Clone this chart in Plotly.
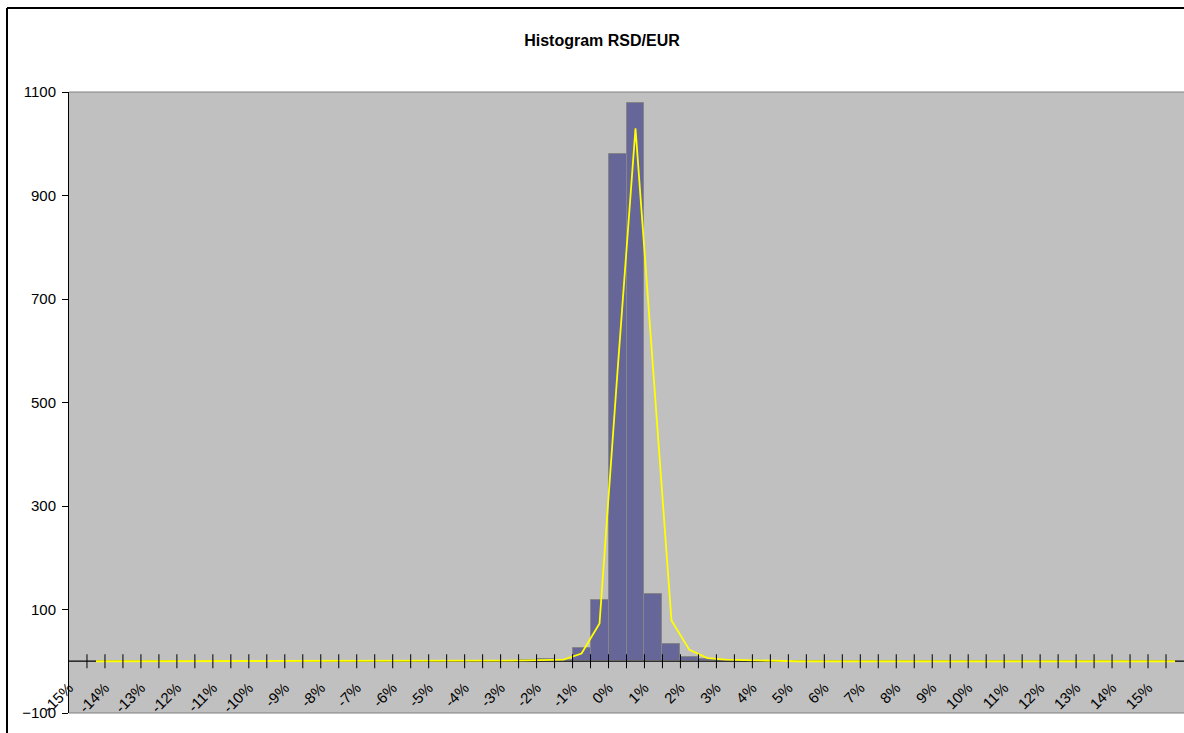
import plotly.graph_objects as go

# Bin centres of the daily change distribution (percent), one bar per 0.5 %
bin_pct = [-15.0, -14.5, -14.0, -13.5, -13.0, -12.5, -12.0, -11.5, -11.0, -10.5,
           -10.0, -9.5, -9.0, -8.5, -8.0, -7.5, -7.0, -6.5, -6.0, -5.5,
           -5.0, -4.5, -4.0, -3.5, -3.0, -2.5, -2.0, -1.5, -1.0, -0.5,
           0.0, 0.5, 1.0, 1.5, 2.0, 2.5, 3.0, 3.5, 4.0, 4.5,
           5.0, 5.5, 6.0, 6.5, 7.0, 7.5, 8.0, 8.5, 9.0, 9.5,
           10.0, 10.5, 11.0, 11.5, 12.0, 12.5, 13.0, 13.5, 14.0, 14.5,
           15.0, 15.5]

# Observed frequencies per bin
counts = [0, 0, 0, 0, 0, 0, 0, 0, 0, 0,
          0, 0, 0, 0, 0, 0, 0, 0, 0, 0,
          0, 0, 0, 1, 1, 2, 4, 2, 25, 119,
          980, 1078, 129, 34, 8, 4, 1, 0, 0, 0,
          0, 0, 0, 0, 0, 0, 0, 0, 0, 0,
          0, 0, 0, 0, 0, 0, 0, 0, 0, 0,
          0, 0]

# Fitted frequencies (no value for the first bin)
fitted = [None, 0, 0, 0, 0, 0, 0, 0, 0, 0,
          0, 0, 0, 0, 0, 0, 0, 0, 0, 0,
          0, 0, 0.3, 0.8, 1.2, 1.6, 2, 3, 15, 73,
          560, 1030, 555, 79, 22, 6, 3, 2, 1, 0.5,
          0, 0, 0, 0, 0, 0, 0, 0, 0, 0,
          0, 0, 0, 0, 0, 0, 0, 0, 0, 0,
          0, 0]

y_ticks = [-100, 100, 300, 500, 700, 900, 1100]
y_min, y_max = -100, 1100

FONT = "Arial, Liberation Sans, Helvetica, sans-serif"
W, H = 1184, 733
ML, MR, MT, MB = 69, 0, 92, 20

idx = list(range(len(bin_pct)))
x_lo, x_hi = -0.5, len(bin_pct) - 0.5
label_idx = [i for i, p in enumerate(bin_pct) if p == int(p)]
label_txt = [f"{int(bin_pct[i])}%" for i in label_idx]
boundaries = [i + 0.5 for i in range(len(bin_pct) - 1)]

fig = go.Figure()

fig.add_trace(go.Bar(
    x=idx, y=counts, width=1.0,
    marker=dict(color="#666699", line=dict(color="#858585", width=1)),
    hoverinfo="skip",
))

# category axis line at zero
fig.add_trace(go.Scatter(
    x=[x_lo, x_hi], y=[0, 0], mode="lines",
    line=dict(color="black", width=1), hoverinfo="skip",
))

fig.add_trace(go.Scatter(
    x=idx, y=fitted, mode="lines",
    line=dict(color="#FFFF00", width=1.8), hoverinfo="skip",
    connectgaps=False,
))

# cross tick marks between categories
fig.add_trace(go.Scatter(
    x=boundaries, y=[0] * len(boundaries), mode="markers",
    marker=dict(symbol="line-ns", size=10, color="black",
                line=dict(color="black", width=1)),
    hoverinfo="skip",
))

plot_w = W - ML - MR
plot_h = H - MT - MB
zero_pos = (0 - y_min) / (y_max - y_min)
frame_x = (7 - ML) / plot_w
frame_y = (H - MB - 8) / plot_h

fig.update_layout(
    width=W, height=H,
    margin=dict(l=ML, r=MR, t=MT, b=MB),
    paper_bgcolor="white",
    plot_bgcolor="#C0C0C0",
    showlegend=False,
    bargap=0,
    font=dict(family=FONT, color="black", size=15),
    title=dict(
        text="<b>Histogram RSD/EUR</b>",
        x=602 / W, xref="container", xanchor="center",
        y=1 - 40 / H, yref="container", yanchor="middle",
        font=dict(family=FONT, size=16, color="black"),
    ),
    xaxis=dict(
        range=[x_lo, x_hi],
        anchor="free", position=zero_pos,
        tickmode="array", tickvals=label_idx, ticktext=label_txt,
        tickangle=-45, ticks="", showline=False, showgrid=False,
        zeroline=False, ticklabelstandoff=14, ticklabelshift=-9,
        tickfont=dict(family=FONT, size=15, color="black"),
    ),
    yaxis=dict(
        range=[y_min, y_max],
        tickmode="array", tickvals=y_ticks,
        ticks="outside", ticklen=6, tickcolor="black", tickwidth=1,
        ticklabelstandoff=3,
        showline=True, linecolor="black", linewidth=1,
        showgrid=False, zeroline=False,
        tickfont=dict(family=FONT, size=15, color="black"),
    ),
    shapes=[
        # plot area border (top and bottom)
        dict(type="line", xref="paper", yref="paper",
             x0=0, x1=1, y0=1, y1=1,
             line=dict(color="#808080", width=1)),
        dict(type="line", xref="paper", yref="paper",
             x0=0, x1=1, y0=0, y1=0,
             line=dict(color="#808080", width=1)),
        # chart frame, left and top edges
        dict(type="line", xref="paper", yref="paper",
             x0=frame_x, x1=frame_x, y0=-0.2, y1=frame_y,
             line=dict(color="black", width=2)),
        dict(type="line", xref="paper", yref="paper",
             x0=frame_x, x1=1.0, y0=frame_y, y1=frame_y,
             line=dict(color="black", width=2)),
    ],
)

fig.write_html("out.html")
